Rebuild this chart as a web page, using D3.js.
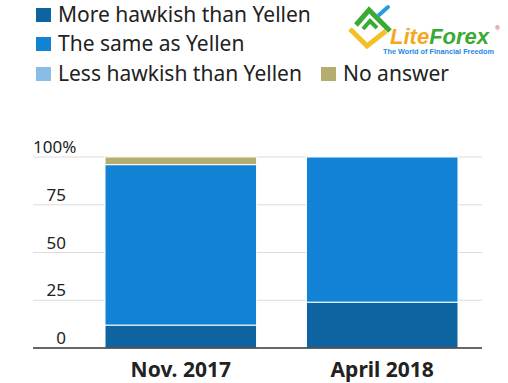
<!DOCTYPE html>
<html>
<head>
<meta charset="utf-8">
<script src="https://cdn.jsdelivr.net/npm/d3@7"></script>
<style>
  body { margin: 0; background: #fff; }
  svg { display: block; font-family: "Noto Sans", sans-serif; }
</style>
</head>
<body>
<div id="chart"></div>
<script>
(function () {
  // data
  var periods = ["Nov. 2017", "April 2018"];
  var seriesNames = ["More hawkish than Yellen", "The same as Yellen", "Less hawkish than Yellen", "No answer"];
  var moreHawkish = [12, 24];
  var sameAsYellen = [84, 76];
  var lessHawkish = [0, 0];
  var noAnswer = [4, 0];
  var yTicks = [0, 25, 50, 75, 100];

  var colors = ["#0e64a0", "#1283d4", "#88bde8", "#b4ad6e"];

  var W = 508, H = 383;
  var svg = d3.select("#chart").append("svg")
      .attr("width", W)
      .attr("height", H);

  // build rows for d3.stack
  var rows = periods.map(function(p, i) {
    return { period: p, s0: moreHawkish[i], s1: sameAsYellen[i], s2: lessHawkish[i], s3: noAnswer[i] };
  });
  var stack = d3.stack().keys(["s0", "s1", "s2", "s3"]);
  var layers = stack(rows);

  var x = d3.scaleBand().domain(periods).range([105, 458]).paddingInner(0.2475).paddingOuter(0);
  var y = d3.scaleLinear().domain([0, 100]).range([348, 157]);

  // gridlines
  svg.append("g").selectAll("line")
      .data(yTicks.filter(function(t) { return t > 0; }))
      .enter().append("line")
      .attr("x1", 33).attr("x2", 482)
      .attr("y1", function(d) { return y(d); })
      .attr("y2", function(d) { return y(d); })
      .attr("stroke", "#dcdcdc")
      .attr("stroke-width", 1);

  // tick labels
  svg.append("g").selectAll("text")
      .data(yTicks)
      .enter().append("text")
      .attr("x", function(d) { return d === 100 ? 33 : 66; })
      .attr("y", function(d) { return y(d) - 4; })
      .attr("text-anchor", function(d) { return d === 100 ? "start" : "end"; })
      .attr("font-size", 17)
      .attr("fill", "#222")
      .text(function(d) { return d === 100 ? "100%" : d; });

  // stacked bars
  svg.append("g").selectAll("g")
      .data(layers)
      .enter().append("g")
      .attr("fill", function(d, i) { return colors[i]; })
    .selectAll("rect")
      .data(function(d) { return d.filter(function(s) { return s[1] - s[0] > 0; }); })
      .enter().append("rect")
      .attr("x", function(d) { return x(d.data.period); })
      .attr("width", x.bandwidth())
      .attr("y", function(d) { return y(d[1]); })
      .attr("height", function(d) { return y(d[0]) - y(d[1]); })
      .attr("stroke", "#fff")
      .attr("stroke-width", 1);

  // baseline
  svg.append("line")
      .attr("x1", 33).attr("x2", 482)
      .attr("y1", y(0)).attr("y2", y(0))
      .attr("stroke", "#333")
      .attr("stroke-width", 1.5);

  // x labels
  svg.append("g").selectAll("text")
      .data(periods)
      .enter().append("text")
      .attr("x", function(d) { return x(d) + x.bandwidth() / 2; })
      .attr("y", 377)
      .attr("text-anchor", "middle")
      .attr("font-size", 21)
      .attr("font-weight", "bold")
      .attr("fill", "#222")
      .text(function(d) { return d; });

  // legend
  var legendPos = [[36, 8], [36, 37], [36, 67], [321, 67]];
  var legend = svg.append("g").selectAll("g")
      .data(seriesNames)
      .enter().append("g")
      .attr("transform", function(d, i) { return "translate(" + legendPos[i][0] + "," + legendPos[i][1] + ")"; });
  legend.append("rect")
      .attr("width", 15).attr("height", 14)
      .attr("fill", function(d, i) { return colors[i]; });
  legend.append("text")
      .attr("x", 22)
      .attr("y", 14)
      .attr("font-size", 21)
      .attr("fill", "#222")
      .text(function(d) { return d; });

  // LiteForex logo
  var logo = svg.append("g");
  logo.append("path")
      .attr("d", "M350,29 L367,46 L386,31")
      .attr("fill", "none").attr("stroke", "#f4c028").attr("stroke-width", 5);
  logo.append("path")
      .attr("d", "M356,25 L369,10 L390,31")
      .attr("fill", "none").attr("stroke", "#3aaa35").attr("stroke-width", 5);
  logo.append("path")
      .attr("d", "M363,29 L370,21 L377,28")
      .attr("fill", "none").attr("stroke", "#3aaa35").attr("stroke-width", 4);
  logo.append("path")
      .attr("d", "M379,15 L388,7")
      .attr("fill", "none").attr("stroke", "#2a9be0").attr("stroke-width", 4)
      .attr("stroke-linecap", "round");
  var brand = logo.append("text")
      .attr("x", 390).attr("y", 44)
      .attr("font-size", 22)
      .attr("font-weight", "bold")
      .attr("font-style", "italic")
      .attr("font-family", "Liberation Sans, sans-serif");
  brand.append("tspan").attr("fill", "#f4a81d").text("Lite");
  brand.append("tspan").attr("fill", "#3aaa35").text("Forex");
  logo.append("text")
      .attr("x", 495).attr("y", 30)
      .attr("font-size", 6)
      .attr("fill", "#e53935")
      .text("®");
  logo.append("text")
      .attr("x", 383).attr("y", 54)
      .attr("font-size", 7.3)
      .attr("font-weight", "bold")
      .attr("font-family", "Liberation Sans, sans-serif")
      .attr("fill", "#1e88e5")
      .text("The World of Financial Freedom");
})();
</script>
</body>
</html>
